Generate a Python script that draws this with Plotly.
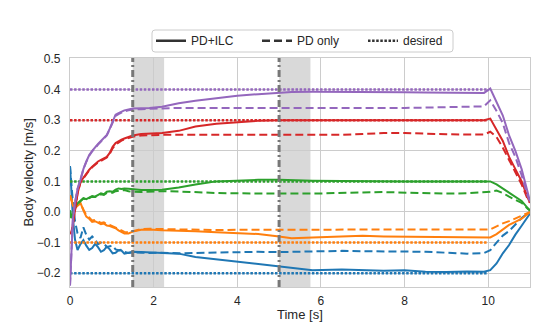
import plotly.graph_objects as go

# Time stamps [s] shared by every measured velocity trace
T = [0.00, 0.03, 0.07, 0.12, 0.18, 0.25, 0.32, 0.39, 0.46, 0.53,
     0.60, 0.67, 0.74, 0.81, 0.88, 0.95, 1.02, 1.09, 1.16, 1.23,
     1.30, 1.40, 1.50, 1.70, 1.90, 2.20, 2.60, 3.00, 3.50, 4.00,
     4.50, 5.00, 5.30, 5.80, 6.50, 7.00, 7.50, 8.00, 8.50, 9.00,
     9.50, 9.90, 10.05, 10.20, 10.35, 10.50, 10.65, 10.80, 10.95, 11.00]

# Body velocity [m/s], controller with learning (PD+ILC)
ilc_blue = [0.150, 0.060, -0.020, -0.090, -0.124, -0.105, -0.092, -0.110, -0.124, -0.118,
            -0.104, -0.115, -0.130, -0.125, -0.113, -0.122, -0.135, -0.133, -0.125, -0.126,
            -0.136, -0.133, -0.130, -0.131, -0.132, -0.133, -0.136, -0.147, -0.155, -0.163,
            -0.171, -0.178, -0.183, -0.190, -0.188, -0.190, -0.192, -0.190, -0.195, -0.196,
            -0.194, -0.195, -0.190, -0.168, -0.135, -0.108, -0.074, -0.045, -0.012, -0.005]
ilc_orange = [0.055, 0.035, 0.020, 0.012, 0.020, 0.030, 0.005, -0.015, -0.022, -0.032,
              -0.030, -0.036, -0.040, -0.038, -0.044, -0.046, -0.050, -0.053, -0.060, -0.064,
              -0.070, -0.070, -0.064, -0.058, -0.057, -0.060, -0.061, -0.063, -0.066, -0.068,
              -0.072, -0.080, -0.086, -0.083, -0.079, -0.078, -0.080, -0.081, -0.082, -0.082,
              -0.083, -0.084, -0.083, -0.072, -0.058, -0.042, -0.032, -0.022, -0.006, 0.000]
ilc_green = [0.005, -0.020, -0.005, 0.015, 0.028, 0.038, 0.045, 0.042, 0.046, 0.052,
             0.050, 0.057, 0.061, 0.058, 0.066, 0.068, 0.066, 0.073, 0.077, 0.075,
             0.077, 0.076, 0.074, 0.072, 0.072, 0.073, 0.080, 0.090, 0.100, 0.103,
             0.105, 0.105, 0.103, 0.102, 0.101, 0.100, 0.101, 0.100, 0.100, 0.100,
             0.100, 0.101, 0.100, 0.090, 0.077, 0.064, 0.050, 0.036, 0.012, 0.005]
ilc_red = [-0.065, -0.072, -0.040, 0.010, 0.060, 0.098, 0.112, 0.126, 0.138, 0.148,
           0.158, 0.165, 0.170, 0.176, 0.180, 0.193, 0.213, 0.225, 0.232, 0.236,
           0.240, 0.244, 0.250, 0.255, 0.257, 0.258, 0.265, 0.279, 0.288, 0.294,
           0.298, 0.300, 0.300, 0.300, 0.300, 0.300, 0.300, 0.300, 0.300, 0.300,
           0.300, 0.300, 0.305, 0.270, 0.232, 0.180, 0.140, 0.100, 0.045, 0.030]
ilc_purple = [-0.240, -0.120, -0.020, 0.030, 0.075, 0.105, 0.140, 0.165, 0.186, 0.200,
              0.212, 0.222, 0.232, 0.242, 0.252, 0.272, 0.295, 0.318, 0.323, 0.328,
              0.332, 0.335, 0.338, 0.339, 0.340, 0.344, 0.355, 0.363, 0.372, 0.380,
              0.385, 0.390, 0.392, 0.393, 0.393, 0.393, 0.392, 0.391, 0.390, 0.389,
              0.388, 0.389, 0.403, 0.360, 0.315, 0.250, 0.200, 0.140, 0.060, 0.035]

# Body velocity [m/s], plain PD controller
pd_blue = [0.150, 0.090, 0.030, -0.030, -0.070, -0.085, -0.050, -0.075, -0.090, -0.080,
           -0.090, -0.105, -0.100, -0.102, -0.115, -0.112, -0.110, -0.122, -0.125, -0.123,
           -0.130, -0.134, -0.132, -0.133, -0.134, -0.133, -0.135, -0.134, -0.132, -0.131,
           -0.130, -0.131, -0.130, -0.128, -0.127, -0.128, -0.129, -0.128, -0.130, -0.133,
           -0.136, -0.134, -0.125, -0.100, -0.077, -0.062, -0.040, -0.020, -0.004, 0.000]
pd_orange = [0.055, 0.040, 0.025, 0.015, 0.022, 0.028, 0.008, -0.010, -0.018, -0.028,
             -0.026, -0.032, -0.036, -0.034, -0.040, -0.042, -0.046, -0.049, -0.055, -0.060,
             -0.065, -0.066, -0.062, -0.056, -0.055, -0.056, -0.057, -0.058, -0.059, -0.058,
             -0.058, -0.059, -0.058, -0.058, -0.057, -0.058, -0.058, -0.057, -0.057, -0.058,
             -0.057, -0.058, -0.057, -0.047, -0.037, -0.030, -0.022, -0.012, -0.003, 0.000]
pd_green = [0.005, -0.018, -0.004, 0.014, 0.027, 0.036, 0.044, 0.041, 0.045, 0.050,
            0.049, 0.055, 0.058, 0.056, 0.062, 0.063, 0.063, 0.068, 0.070, 0.070,
            0.072, 0.068, 0.066, 0.065, 0.066, 0.068, 0.067, 0.064, 0.062, 0.061,
            0.060, 0.060, 0.060, 0.060, 0.061, 0.064, 0.065, 0.063, 0.061, 0.060,
            0.061, 0.063, 0.066, 0.070, 0.062, 0.050, 0.040, 0.030, 0.010, 0.005]
pd_red = [-0.065, -0.070, -0.038, 0.012, 0.060, 0.096, 0.110, 0.124, 0.136, 0.146,
          0.155, 0.162, 0.167, 0.173, 0.178, 0.190, 0.208, 0.220, 0.228, 0.233,
          0.237, 0.242, 0.246, 0.250, 0.251, 0.252, 0.252, 0.252, 0.251, 0.252,
          0.252, 0.251, 0.252, 0.252, 0.252, 0.255, 0.258, 0.258, 0.255, 0.254,
          0.253, 0.253, 0.262, 0.245, 0.210, 0.168, 0.130, 0.090, 0.040, 0.030]
pd_purple = [-0.240, -0.118, -0.018, 0.032, 0.076, 0.106, 0.140, 0.164, 0.184, 0.198,
             0.210, 0.220, 0.230, 0.240, 0.250, 0.270, 0.292, 0.314, 0.320, 0.325,
             0.329, 0.332, 0.335, 0.336, 0.337, 0.338, 0.340, 0.340, 0.339, 0.340,
             0.340, 0.339, 0.340, 0.340, 0.340, 0.338, 0.339, 0.340, 0.341, 0.343,
             0.344, 0.345, 0.365, 0.330, 0.290, 0.225, 0.180, 0.120, 0.050, 0.035]

# Reference velocities [m/s] held over the tracking window
desired_t = [0.0, 10.0]
desired_blue, desired_orange, desired_green, desired_red, desired_purple = -0.2, -0.1, 0.1, 0.3, 0.4

# Disturbance events: onset times and shaded intervals [s]
event_times = [1.5, 5.0]
event_spans = [(1.5, 2.25), (5.0, 5.75)]

colors = ["#1f77b4", "#ff7f0e", "#2ca02c", "#d62728", "#9467bd"]
ilc = [ilc_blue, ilc_orange, ilc_green, ilc_red, ilc_purple]
pd_only = [pd_blue, pd_orange, pd_green, pd_red, pd_purple]
desired = [desired_blue, desired_orange, desired_green, desired_red, desired_purple]

DASH = "8px,4px"
DOT = "2.5px,1.6px"

W, H = 558, 327
ML, MR, MT, MB = 70, 28, 58, 40
PW, PH = W - ML - MR, H - MT - MB


def paper_x(px):
    return (px - ML) / PW


def paper_y(py):
    return (H - MB - py) / PH


fig = go.Figure()

for c, y_ilc, y_pd, y_des in zip(colors, ilc, pd_only, desired):
    fig.add_trace(go.Scatter(x=T, y=y_ilc, mode="lines", showlegend=False,
                             line=dict(color=c, width=2)))
    fig.add_trace(go.Scatter(x=T, y=y_pd, mode="lines", showlegend=False,
                             line=dict(color=c, width=2, dash=DASH)))
    fig.add_trace(go.Scatter(x=desired_t, y=[y_des] * len(desired_t), mode="lines",
                             showlegend=False, line=dict(color=c, width=2.5, dash=DOT)))

# legend keys in neutral gray
for name, dash in [("PD+ILC", "solid"), ("PD only", DASH), ("desired", DOT)]:
    fig.add_trace(go.Scatter(x=[None], y=[None], mode="lines", name=name,
                             line=dict(color="#333333", width=2.5, dash=dash)))

for x0, x1 in event_spans:
    fig.add_shape(type="rect", xref="x", yref="paper", x0=x0, x1=x1, y0=0, y1=1,
                  fillcolor="rgba(128,128,128,0.3)", line=dict(width=0), layer="between")
for xe in event_times:
    fig.add_shape(type="line", xref="x", yref="paper", x0=xe, x1=xe, y0=0, y1=1,
                  line=dict(color="#777777", width=3, dash="7px,3px,2px,3px"), layer="above")

# rounded frame around the legend
bx0, bx1, by0, by1, r = 152, 453, 30, 52, 3
rx, ry = r / PW, r / PH
X0, X1, Y0, Y1 = paper_x(bx0), paper_x(bx1), paper_y(by1), paper_y(by0)
frame_path = (
    f"M{X0 + rx},{Y0} L{X1 - rx},{Y0} Q{X1},{Y0} {X1},{Y0 + ry} "
    f"L{X1},{Y1 - ry} Q{X1},{Y1} {X1 - rx},{Y1} L{X0 + rx},{Y1} "
    f"Q{X0},{Y1} {X0},{Y1 - ry} L{X0},{Y0 + ry} Q{X0},{Y0} {X0 + rx},{Y0} Z"
)
fig.add_shape(type="path", xref="paper", yref="paper", path=frame_path,
              fillcolor="white", line=dict(color="#cccccc", width=1), layer="above")

# axis titles placed as annotations
fig.add_annotation(text="Time [s]", xref="paper", yref="paper",
                   x=0.5, y=paper_y(314), xanchor="center", yanchor="middle",
                   showarrow=False, font=dict(size=13, color="#262626"))
fig.add_annotation(text="Body velocity [m/s]", xref="paper", yref="paper",
                   x=paper_x(28), y=0.5, xanchor="center", yanchor="middle", textangle=-90,
                   showarrow=False, font=dict(size=13, color="#262626"))

axis_common = dict(showgrid=True, gridcolor="#cccccc", gridwidth=1,
                   showline=True, linecolor="#cccccc", linewidth=1.25, mirror=True,
                   zeroline=False, ticks="", tickfont=dict(size=12, color="#262626"),
                   automargin=False)

fig.update_layout(
    width=W, height=H,
    margin=dict(l=ML, r=MR, t=MT, b=MB),
    paper_bgcolor="white", plot_bgcolor="white",
    font=dict(family="Liberation Sans, Arial, sans-serif", color="#262626", size=12),
    xaxis=dict(range=[0, 11], tickvals=[0, 2, 4, 6, 8, 10], ticklabelstandoff=2,
               **axis_common),
    yaxis=dict(range=[-0.245, 0.503], tickvals=[-0.2, -0.1, 0.0, 0.1, 0.2, 0.3, 0.4, 0.5],
               tickformat=".1f", ticklabelstandoff=6, **axis_common),
    legend=dict(orientation="h", x=paper_x(151), xanchor="left", y=1.012, yanchor="bottom",
                bgcolor="rgba(0,0,0,0)", borderwidth=0,
                font=dict(size=12, color="#262626"), entrywidth=61, entrywidthmode="pixels"),
)

fig.write_html("out.html")
